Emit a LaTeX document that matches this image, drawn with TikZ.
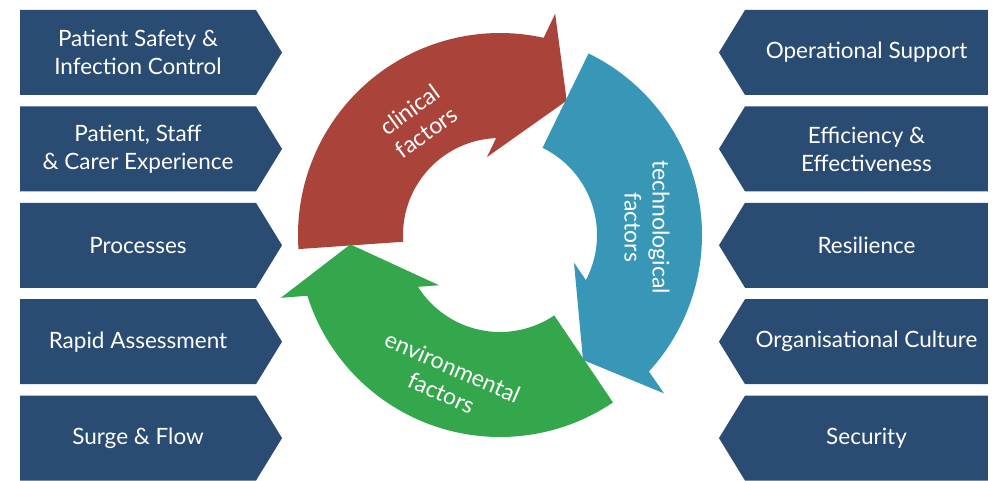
\documentclass[tikz,border=0pt]{standalone}
\usepackage{fontspec}
\setmainfont{Lato}
\usepackage{tikz}
\usetikzlibrary{positioning,calc,shapes.symbols}

\definecolor{navy}{RGB}{42,75,114}
\definecolor{clin}{RGB}{170,68,58}
\definecolor{tech}{RGB}{56,150,182}
\definecolor{env}{RGB}{52,166,76}

\begin{document}
\begin{tikzpicture}[x=1pt,y=1pt,
			lbox/.style={signal,signal to=east,signal pointer angle=117,fill=navy,text=white,align=center,
				minimum width=262,minimum height=85,inner sep=0pt,outer sep=0pt,font=\fontsize{22.5}{28}\selectfont},
			rbox/.style={lbox,signal to=west,minimum width=269},
			lbl/.style={text=white,align=center,font=\fontsize{23}{28}\selectfont}]
		\useasboundingbox (0,0) rectangle (998,480);
		% left column
		\path 	(138,427.5) node (psic) [lbox] {Patient Safety \&\\Infection Control}
		        (138,331.1) node (psce) [lbox] {Patient, Staff\\\& Carer Experience}
		        (138,234.7) node (proc) [lbox] {Processes}
		        (138,138.3) node (rass) [lbox] {Rapid Assessment}
		        (138,41.9) 	node (sflo) [lbox] {Surge \& Flow};
		% right column
		\path 	(866.5,427.5) node (opsu) [rbox] {Operational Support}
		        (866.5,331.1) node (efef) [rbox] {Efficiency \&\\Effectiveness}
		        (866.5,234.7) node (resi) [rbox] {Resilience}
		        (866.5,138.3) node (orcu) [rbox] {Organisational Culture}
		        (866.5,41.9) 	node (secu) [rbox] {Security};
		% the three arrows of the cycle
		\foreach \col/\rot in {clin/0,tech/-120,env/-240}
		\fill [\col,shift={(500,245)},rotate=\rot] (184:202) arc[start angle=184,end angle=77.5,radius=202]
			-- (76:228) -- (63.6:150) -- (99.5:79) -- (92.3:97) arc[start angle=92.3,end angle=184,radius=97] -- cycle;
		\path 	(418,359) node (clf) [lbl,rotate=36] {clinical\\factors}
		        (647,253) node (tef) [lbl,rotate=-90] {technological\\factors}
		        (447,100) node (enf) [lbl,rotate=-23.6] {environmental\\factors};
	\end{tikzpicture}
\end{document}
